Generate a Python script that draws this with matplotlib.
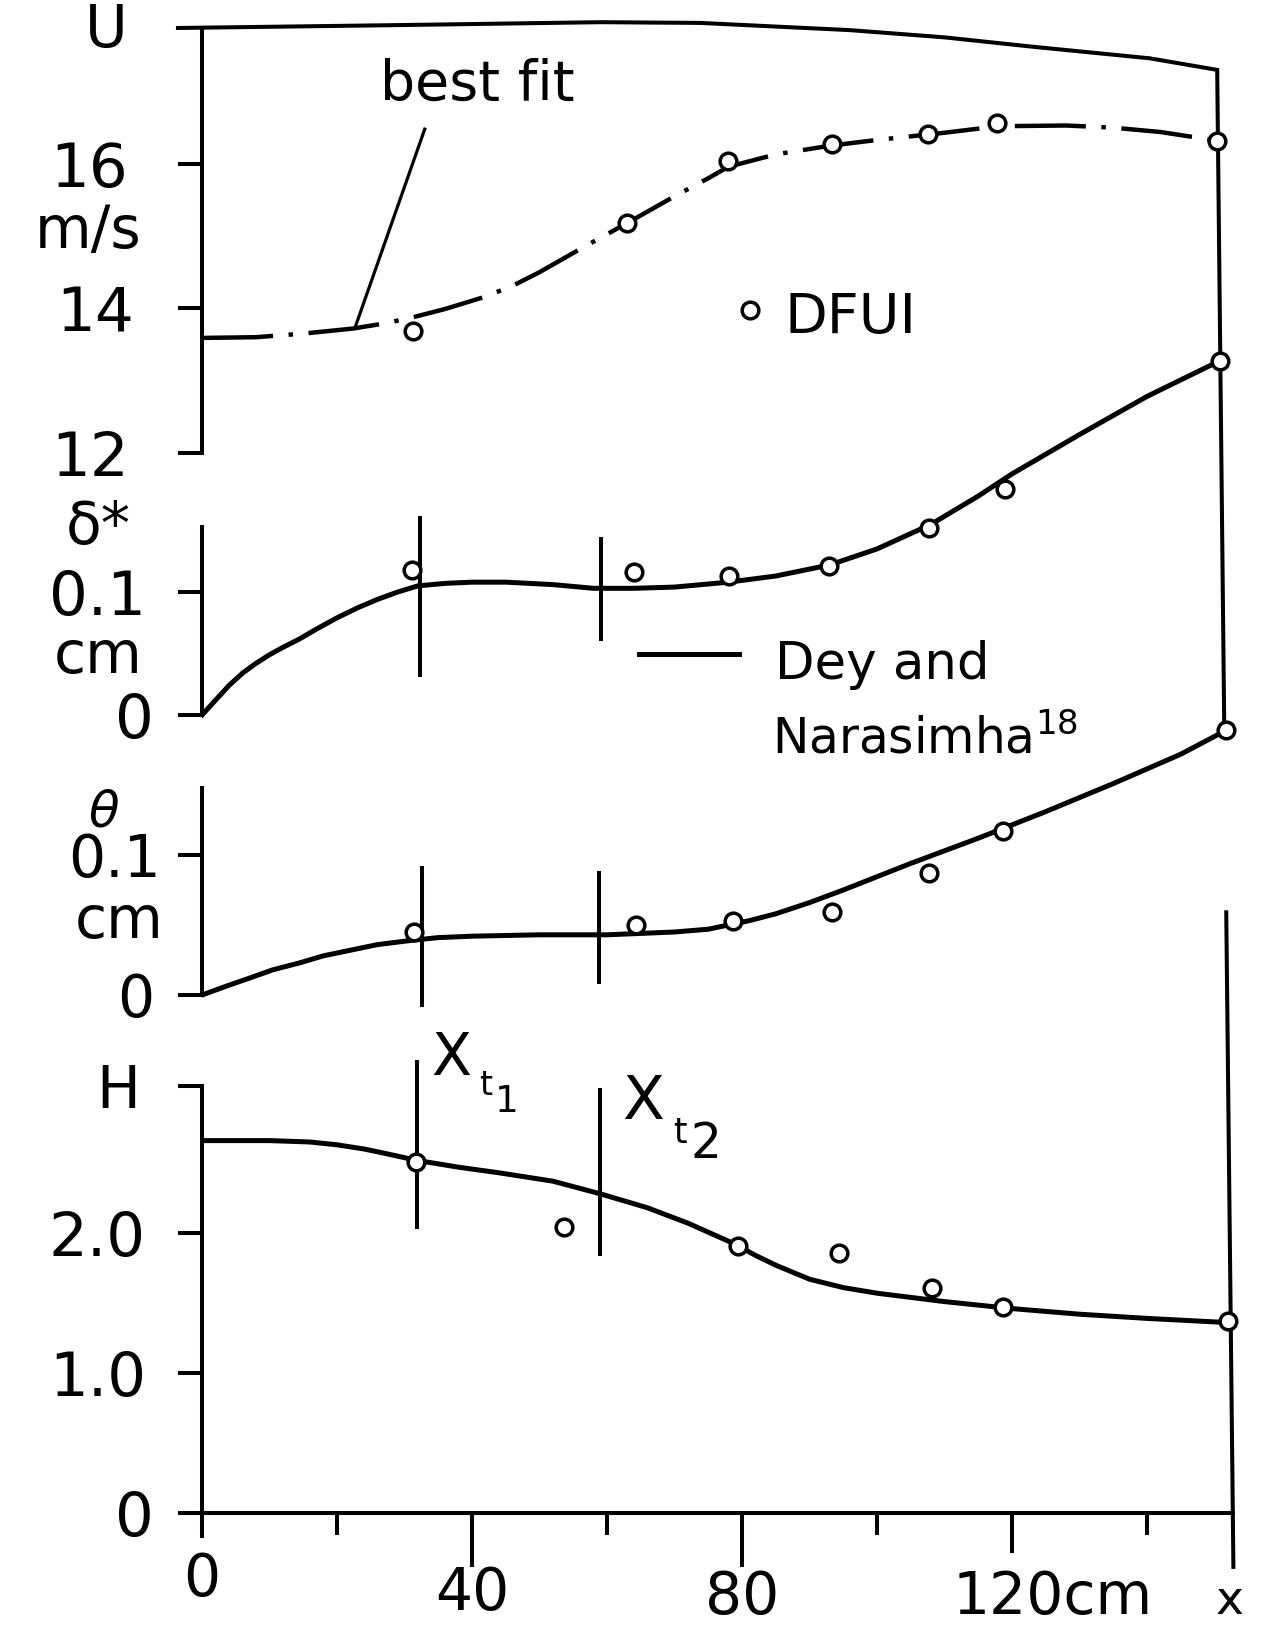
import matplotlib
matplotlib.use("Agg")
import matplotlib.pyplot as plt
from matplotlib.transforms import blended_transform_factory, offset_copy

plt.rcParams['font.family'] = ['DejaVu Sans']
plt.rcParams['mathtext.fontset'] = 'dejavusans'

# ---------------- data ----------------
x_major = [0, 40, 80, 120]
x_major_labels = ['0', '40', '80', '120cm']
x_minor = [20, 60, 100, 140]
x_end = 152.7
x_end_label = 'x'

# U panel (m/s)
U_ticks = [12, 14, 16]
U_tick_labels = ['12', '14', '16']
U_axis_top = 17.88
U_x = [31.3, 63.0, 77.9, 93.3, 107.6, 117.8, 150.4]
U_meas = [13.69, 15.18, 16.04, 16.28, 16.41, 16.57, 16.32]
U_fit_x = [0, 8, 15, 22.4, 27, 31, 36, 41.6, 46, 50, 56.4, 63, 70, 75, 78, 85,
           93, 100, 110, 118, 128, 135, 142, 150.4]
U_fit = [13.59, 13.60, 13.65, 13.72, 13.79, 13.87, 13.99, 14.15, 14.31, 14.50,
         14.84, 15.18, 15.55, 15.80, 15.96, 16.13, 16.25, 16.33, 16.43, 16.52,
         16.53, 16.50, 16.44, 16.32]
leader_x = [33.0, 22.7]
leader_u = [16.48, 13.74]
dfui_key_x = [81.2]
dfui_key_u = [13.97]

# frame (drawn in U units)
frame_upper_x = [-3.56, 29.3, 59.0, 73.8, 96.0, 110.0, 123.1, 140.4, 150.4, 151.45]
frame_upper_u = [17.88, 17.92, 17.96, 17.95, 17.85, 17.75, 17.62, 17.46, 17.30, 8.15]
frame_lower_x = [151.74, 152.8]
frame_lower_u = [5.64, -3.42]

# delta* panel (cm)
d_ticks = [0, 0.1]
d_tick_labels = ['0', '0.1']
d_axis_top = 0.153
d_x = [31.1, 64.0, 78.0, 92.9, 107.7, 119.0, 150.8]
d_meas = [0.118, 0.116, 0.113, 0.121, 0.152, 0.184, 0.288]
d_curve_x = [0, 2, 4, 6, 8, 10, 12, 14.5, 17, 20, 23, 26, 29, 32, 36, 40, 45,
             52, 58, 64, 70, 78, 85, 93, 100, 108, 115, 120, 130, 140, 150.8]
d_curve = [0, 0.012, 0.024, 0.034, 0.042, 0.049, 0.055, 0.062, 0.070, 0.079,
           0.087, 0.094, 0.100, 0.105, 0.107, 0.108, 0.108, 0.106, 0.103, 0.103,
           0.104, 0.108, 0.113, 0.122, 0.135, 0.155, 0.178, 0.196, 0.228, 0.259,
           0.288]
d_xt1 = ([32.3, 32.3], [0.0325, 0.160])
d_xt2 = ([59.1, 59.1], [0.062, 0.143])
dey_key_x = [64.7, 79.6]
dey_key_d = [0.050, 0.050]

# theta panel (cm)
t_ticks = [0, 0.1]
t_tick_labels = ['0', '0.1']
t_axis_top = 0.148
t_x = [31.4, 64.3, 78.7, 93.3, 107.7, 118.7, 151.7]
t_meas = [0.045, 0.050, 0.053, 0.059, 0.087, 0.117, 0.189]
t_curve_x = [0, 4, 7, 10.5, 14.5, 18, 22, 26, 31, 35, 40, 50, 60, 70, 75, 78,
             81, 85, 90, 95, 105, 115, 125, 135, 145, 151.7]
t_curve = [0, 0.007, 0.012, 0.018, 0.023, 0.028, 0.032, 0.036, 0.039, 0.041,
           0.042, 0.043, 0.043, 0.045, 0.047, 0.050, 0.053, 0.058, 0.066, 0.075,
           0.094, 0.112, 0.131, 0.151, 0.172, 0.189]
t_xt1 = ([32.6, 32.6], [-0.0071, 0.0907])
t_xt2 = ([58.8, 58.8], [0.0093, 0.087])

# H panel
H_ticks = [0, 1.0, 2.0, 3.05]
H_tick_labels = ['0', '1.0', '2.0', '']
H_x = [31.7, 53.7, 79.4, 94.4, 108.1, 118.7, 152.0]
H_meas = [2.51, 2.04, 1.91, 1.86, 1.61, 1.47, 1.37]
H_curve_x = [0, 10, 16, 20, 24, 27, 31.7, 38, 44, 52, 59, 66, 72, 79, 82, 85,
             90, 95, 100, 110, 120, 130, 140, 152]
H_curve = [2.66, 2.66, 2.65, 2.63, 2.60, 2.57, 2.52, 2.47, 2.43, 2.37, 2.28,
           2.18, 2.07, 1.92, 1.84, 1.77, 1.67, 1.61, 1.57, 1.51, 1.46, 1.42,
           1.39, 1.36]
H_xt1 = ([31.9, 31.9], [2.04, 3.22])
H_xt2 = ([59.0, 59.0], [1.85, 3.02])

# ---------------- layout (pixels of a 1263 x 1625 canvas) ----------------
W_PX, H_PX, DPI = 1263, 1625, 100
X0_PX, X_SCALE = 202, 6.75
LW_AXIS = 2.9
LW_CURVE = 3.6
FS_NUM = 44
MK = dict(marker='o', ms=12, mfc='white', mec='black', mew=2.5,
          linestyle='none', zorder=6, clip_on=False)

fig = plt.figure(figsize=(W_PX / DPI, H_PX / DPI), dpi=DPI)


def px_pt(v):
    return v * 72.0 / DPI


def make_axes(v0, p0, s):
    ax = fig.add_axes([X0_PX / W_PX, 0, x_end * X_SCALE / W_PX, 1])
    ax.set_xlim(0, x_end)
    ax.set_ylim(v0 - (H_PX - p0) / s, v0 + p0 / s)
    ax.patch.set_visible(False)
    for side in ('top', 'right', 'bottom'):
        ax.spines[side].set_visible(False)
    ax.spines['left'].set_linewidth(LW_AXIS)
    ax.tick_params(axis='x', which='both', bottom=False, labelbottom=False)
    return ax


def style_y(ax, ticks, labels, pads_px, top, size=FS_NUM):
    ax.set_yticks(ticks, labels)
    ax.tick_params(axis='y', direction='out', length=px_pt(24),
                   width=LW_AXIS, labelsize=size)
    for tk, p in zip(ax.yaxis.get_major_ticks(), pads_px):
        tk.set_pad(px_pt(p))
    ax.spines['left'].set_bounds(ticks[0], top)


def ftext(xpx, ypx, s, **kw):
    fig.text(xpx / W_PX, 1 - ypx / H_PX, s, **kw)


axU = make_axes(12, 452.8, 72.25)
axD = make_axes(0, 715, 1230)
axT = make_axes(0, 995, 1400)
axH = make_axes(0, 1513, 140)

# ---- U panel ----
style_y(axU, U_ticks, U_tick_labels, [49, 44, 50], U_axis_top)
axU.plot(frame_upper_x, frame_upper_u, color='black', lw=LW_AXIS,
         clip_on=False, solid_joinstyle='miter')
axU.plot(frame_lower_x, frame_lower_u, color='black', lw=LW_AXIS, clip_on=False)
axU.plot(U_fit_x, U_fit, color='black', lw=3.2, linestyle=(0, (16, 3.5, 1, 3.5)))
axU.plot(U_x, U_meas, **MK)
axU.plot(leader_x, leader_u, color='black', lw=2.3)
axU.plot(dfui_key_x, dfui_key_u, **MK)

# ---- delta* panel ----
style_y(axD, d_ticks, d_tick_labels, [24, 32], d_axis_top)
axD.plot(d_curve_x, d_curve, color='black', lw=LW_CURVE)
axD.plot(*d_xt1, color='black', lw=LW_AXIS)
axD.plot(*d_xt2, color='black', lw=LW_AXIS)
axD.plot(d_x, d_meas, **MK)
axD.plot(dey_key_x, dey_key_d, color='black', lw=LW_CURVE)

# ---- theta panel ----
style_y(axT, t_ticks, t_tick_labels, [24, 17], t_axis_top, size=42)
axT.plot(t_curve_x, t_curve, color='black', lw=LW_CURVE)
axT.plot(*t_xt1, color='black', lw=LW_AXIS)
axT.plot(*t_xt2, color='black', lw=LW_AXIS)
axT.plot(t_x, t_meas, **MK)

# ---- H panel with x axis ----
style_y(axH, H_ticks, H_tick_labels, [24, 32, 32, 0], H_ticks[-1])
axH.plot(H_curve_x, H_curve, color='black', lw=LW_CURVE)
axH.plot(*H_xt1, color='black', lw=LW_AXIS)
axH.plot(*H_xt2, color='black', lw=LW_AXIS)
axH.plot(H_x, H_meas, **MK)

axH.spines['bottom'].set_visible(True)
axH.spines['bottom'].set_position(('data', 0))
axH.spines['bottom'].set_bounds(0, x_end)
axH.spines['bottom'].set_linewidth(LW_AXIS)
axH.set_xticks(x_major, [''] * len(x_major))
axH.set_xticks(x_minor, minor=True)
axH.tick_params(axis='x', which='both', bottom=True, direction='out',
                width=LW_AXIS, labelbottom=False)
axH.tick_params(axis='x', which='minor', length=px_pt(22))
for tk, L in zip(axH.xaxis.get_major_ticks(), [25, 54, 54, 40]):
    tk.tick1line.set_markersize(px_pt(L))

xtrans = blended_transform_factory(axH.transData, fig.transFigure)
x_label_base_px = [1596, 1610, 1614, 1614, 1614]
x_label_dx_px = [0, 0, 0, -59, -3]
x_label_ha = ['center', 'center', 'center', 'left', 'center']
for xv, lab, base, dx, ha in zip(x_major + [x_end], x_major_labels + [x_end_label],
                                 x_label_base_px, x_label_dx_px, x_label_ha):
    tr = offset_copy(xtrans, fig=fig, x=dx, y=0, units='dots')
    axH.text(xv, 1 - base / H_PX, lab, transform=tr, ha=ha, va='baseline',
             fontsize=42 if lab != 'x' else 34)

# ---- axis names / units ----
ftext(106, 47, 'U', ha='center', va='baseline', fontsize=42)
ftext(88, 248, 'm/s', ha='center', va='baseline', fontsize=42)
ftext(98, 544, 'δ*', ha='center', va='baseline', fontsize=42)
ftext(98, 673, 'cm', ha='center', va='baseline', fontsize=42)
ftext(104, 826, r'$\theta$', ha='center', va='baseline', fontsize=36)
ftext(119, 938, 'cm', ha='center', va='baseline', fontsize=42)
ftext(118, 1108, 'H', ha='center', va='baseline', fontsize=42)

# ---- annotations ----
ftext(380, 100, 'best fit', ha='left', va='baseline', fontsize=40)
ftext(785, 333, 'DFUI', ha='left', va='baseline', fontsize=40)
ftext(775, 679, 'Dey and', ha='left', va='baseline', fontsize=37)
ftext(772, 753, r'Narasimha$^{18}$', ha='left', va='baseline', fontsize=35)

# transition labels X_t1, X_t2
ftext(451, 1075, 'X', ha='center', va='baseline', fontsize=42)
ftext(486, 1095, 't', ha='center', va='baseline', fontsize=24)
ftext(507, 1112, '1', ha='center', va='baseline', fontsize=27)
ftext(643, 1119, 'X', ha='center', va='baseline', fontsize=44)
ftext(680, 1143, 't', ha='center', va='baseline', fontsize=25)
ftext(706, 1158, '2', ha='center', va='baseline', fontsize=35)

fig.savefig('out.png', dpi=DPI)
